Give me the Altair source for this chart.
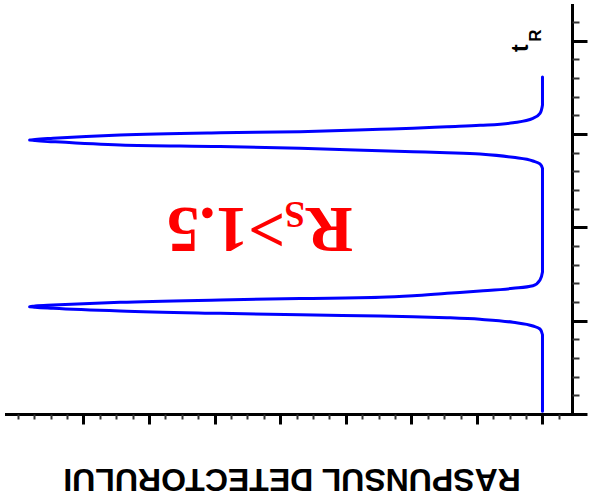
import altair as alt
import pandas as pd

# Chromatogram drawn sideways: retention time runs up the right-hand axis,
# detector response grows towards the left.
time_min = [
    0.03, 0.85,
    0.911, 0.943, 0.983, 1.015, 1.032, 1.043, 1.050, 1.063, 1.079, 1.104, 1.133, 1.144,
    1.150,
    1.158, 1.168, 1.197, 1.222, 1.238, 1.251, 1.268, 1.294, 1.318, 1.347, 1.375, 1.436,
    1.522, 2.633,
    2.680, 2.712, 2.751, 2.787, 2.801, 2.811, 2.822, 2.848, 2.867, 2.883, 2.919, 2.931,
    2.937,
    2.943, 2.955, 2.990, 3.015, 3.026, 3.051, 3.062, 3.079, 3.094, 3.122, 3.169, 3.223,
    3.312, 3.612,
]
response = [
    0.0, 0.0,
    0.038, 0.145, 0.450, 0.953, 1.456, 1.974, 2.477, 3.697, 4.916, 6.441, 7.462, 7.736,
    7.820,
    7.736, 7.462, 6.441, 4.916, 3.697, 2.477, 1.974, 1.456, 0.953, 0.450, 0.145, 0.038,
    0.0, 0.0,
    0.038, 0.145, 0.450, 0.953, 1.456, 1.974, 2.477, 3.697, 4.916, 6.441, 7.462, 7.736,
    7.820,
    7.736, 7.462, 6.441, 4.916, 3.697, 2.477, 1.974, 1.456, 0.953, 0.450, 0.145, 0.038,
    0.0, 0.0,
]

time_major = [0, 1, 2, 3, 4]
time_minor = [0.2, 0.4, 0.6, 0.8, 1.2, 1.4, 1.6, 1.8, 2.2, 2.4, 2.6, 2.8,
              3.2, 3.4, 3.6, 3.8, 4.2]
resp_major = [0, 1, 2, 3, 4, 5, 6, 7]
resp_minor = [-0.25, 0.25, 0.5, 0.75, 1.25, 1.5, 1.75, 2.25, 2.5, 2.75, 3.25, 3.5,
              3.75, 4.25, 4.5, 4.75, 5.25, 5.5, 5.75, 6.25, 6.5, 6.75, 7.25, 7.5,
              7.75, 8.0]

df = pd.DataFrame({"time": time_min, "response": response})

x_scale = alt.Scale(domain=[-0.45, 8.18], reverse=True, nice=False, zero=False)
y_scale = alt.Scale(domain=[0, 4.384], nice=False, zero=False)

axis_x_major = alt.Axis(
    orient="bottom", values=resp_major, tickSize=10, tickWidth=3, tickColor="black",
    domainWidth=3, domainColor="black", domainCap="square", labels=False, grid=False,
    title="RASPUNSUL DETECTORULUI", titleAngle=180, titleFont="Liberation Sans",
    titleFontSize=32, titleFontWeight="bold", titleColor="black",
    titleX=285.5, titleY=64, titleAlign="center", titleBaseline="middle",
)
axis_y_major = alt.Axis(
    orient="right", values=time_major, tickSize=15, tickWidth=3, tickColor="black",
    domainWidth=3, domainColor="black", domainCap="square", labels=False, grid=False,
    title=None,
)
axis_x_minor = alt.Axis(
    orient="bottom", values=resp_minor, tickSize=5, tickWidth=2, tickColor="#333333",
    domain=False, labels=False, grid=False, title=None,
)
axis_y_minor = alt.Axis(
    orient="right", values=time_minor, tickSize=7, tickWidth=2, tickColor="#333333",
    domain=False, labels=False, grid=False, title=None,
)

# time is monotone along the trace, so a y-monotone curve keeps the baseline straight
line = alt.Chart(df).mark_line(
    color="#0000ff", strokeWidth=3, strokeJoin="round", strokeCap="round",
    interpolate="monotone", orient="horizontal",
).encode(
    x=alt.X("response:Q", scale=x_scale, axis=axis_x_major),
    y=alt.Y("time:Q", scale=y_scale, axis=axis_y_major),
    order=alt.Order("time:Q"),
)

minor = alt.Chart(df).mark_point(opacity=0).encode(
    x=alt.X("response:Q", scale=x_scale, axis=axis_x_minor),
    y=alt.Y("time:Q", scale=y_scale, axis=axis_y_minor),
)


def label(text, resp, t, size, font, color, angle):
    src = pd.DataFrame({"response": [resp], "time": [t], "text": [text]})
    return alt.Chart(src).mark_text(
        font=font, fontSize=size, fontWeight="bold", color=color, angle=angle,
        align="left", baseline="alphabetic",
    ).encode(
        x=alt.X("response:Q", scale=x_scale, axis=None),
        y=alt.Y("time:Q", scale=y_scale, axis=None),
        text="text:N",
    )


# Resolution annotation, R with subscript S
rs_big = label("R", 2.889, 2.208, 65, "Liberation Serif", "#ff0000", 180)
rs_sub = label("S", 3.62, 2.272, 37, "Liberation Serif", "#ff0000", 180)
rs_val = label(">1.5", 3.925, 2.208, 65, "Liberation Serif", "#ff0000", 180)

# Retention time marker t with subscript R
tr_t = label("t", 0.221, 3.880, 23, "Liberation Sans", "black", 270)
tr_r = label("R", 0.023, 3.990, 17, "Liberation Sans", "black", 270)

chart = alt.layer(line, minor, rs_big, rs_sub, rs_val, tr_t, tr_r).resolve_axis(
    x="independent", y="independent"
).properties(
    width=566, height=409,
    autosize=alt.AutoSizeParams(type="none"),
    padding={"left": 6, "top": 5, "right": 17, "bottom": 89},
    background="white",
).configure_view(stroke=None)

chart.save("out.html", embed_options={"renderer": "svg", "actions": False})
